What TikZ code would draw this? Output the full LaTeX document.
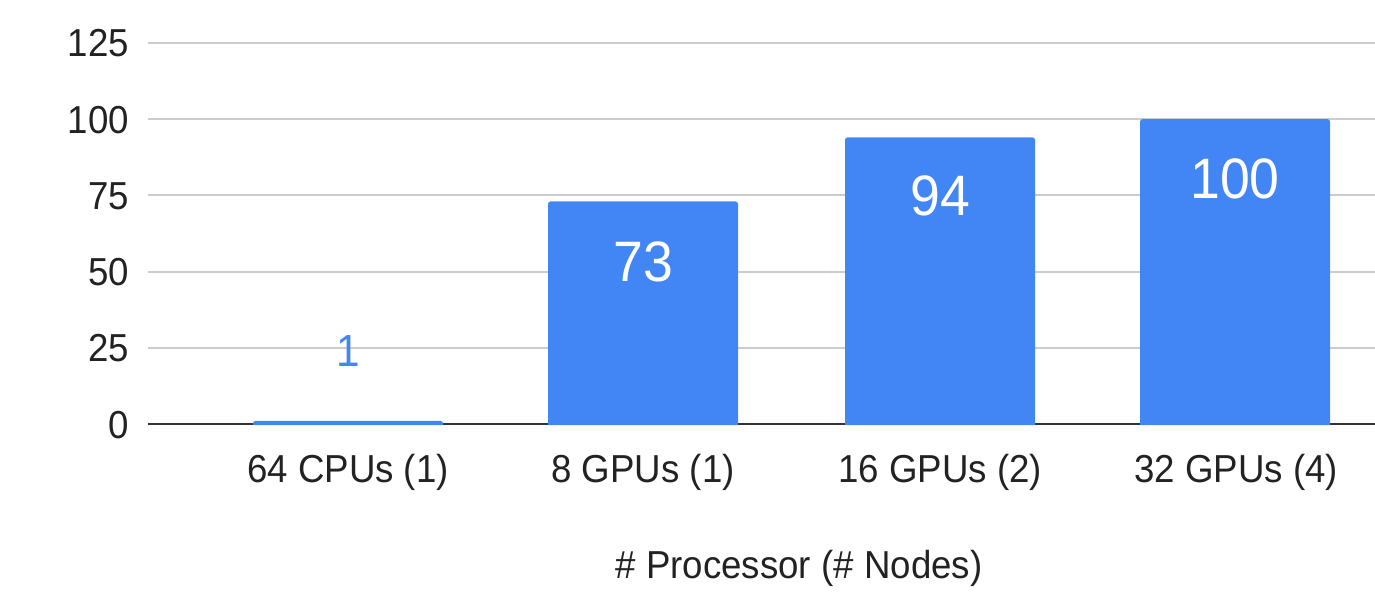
\documentclass[tikz,border=0pt]{standalone}
\usepackage{fontspec}
\setmainfont[FakeStretch=0.94]{Liberation Sans}
\definecolor{gblue}{HTML}{4285F4}
\definecolor{gridc}{HTML}{CCCCCC}
\definecolor{axisc}{HTML}{333333}
\definecolor{txt}{HTML}{222222}
\begin{document}
\begin{tikzpicture}[x=1pt,y=-1pt,
  gridline/.style={draw=gridc,line width=2pt},
  axisline/.style={draw=axisc,line width=2pt},
  ylab/.style={inner sep=0pt,anchor=base east,text=txt,font=\fontsize{39}{44}\selectfont},
  xlab/.style={inner sep=0pt,anchor=base,text=txt,font=\fontsize{39}{44}\selectfont},
  vallab/.style={inner sep=0pt,anchor=base,text=white,font=\fontsize{57}{64}\selectfont},
  outlab/.style={inner sep=0pt,anchor=base,text=gblue,font=\fontsize{45}{50}\selectfont},
  barfill/.style={fill=gblue}]
\useasboundingbox (0,0) rectangle (1375,593);
% gridlines and y labels
\foreach \v/\n in {25/a,50/b,75/c,100/d,125/e}{
  \pgfmathsetmacro{\yy}{424-3.048*\v}
  \draw[gridline] (148,\yy) -- (1375,\yy);
  \node[ylab] (ytick\n) at (129,\yy+14) {\v};
}
\node[ylab] (ytick0) at (129,438) {0};
% axis
\coordinate (axl) at (148,424);
\coordinate (axr) at (1375,424);
\draw[axisline] (axl) -- (axr);
% bars
\foreach \c/\v in {348/1,643/73,940/94,1235/100}{
  \pgfmathsetmacro{\top}{424-3.048*\v}
  \fill[barfill] (\c-95,425) [rounded corners=2.5pt] -- (\c-95,\top) -- (\c+95,\top) [sharp corners] -- (\c+95,425) -- cycle;
}
% value labels
\node[outlab] (v1) at (348,366) {1};
\node[vallab] (v73) at (643,282) {73};
\node[vallab] (v94) at (940,216) {94};
\node[vallab] (v100) at (1235,198.5) {100};
% x labels
\node[xlab] (x1) at (348,482) {64 CPUs (1)};
\node[xlab] (x2) at (643,482) {8 GPUs (1)};
\node[xlab] (x3) at (940,482) {16 GPUs (2)};
\node[xlab] (x4) at (1236,482) {32 GPUs (4)};
\node[xlab] (xtitle) at (799,578) {\# Processor (\# Nodes)};
\end{tikzpicture}
\end{document}
